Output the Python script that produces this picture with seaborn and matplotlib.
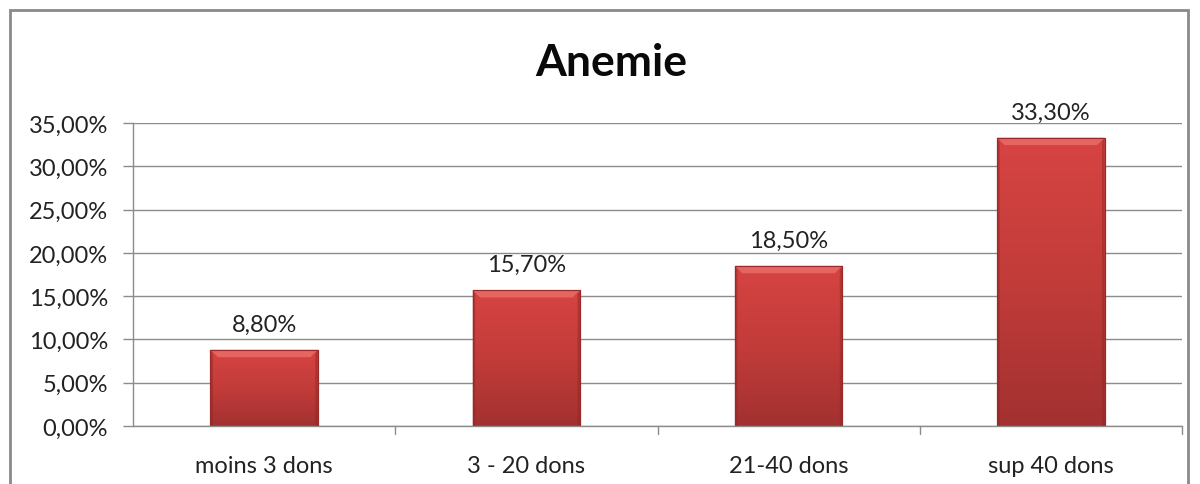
import numpy as np
import pandas as pd
import matplotlib
matplotlib.use("Agg")
import matplotlib.pyplot as plt
import seaborn as sns
from matplotlib.patches import Rectangle, Polygon
from matplotlib.colors import LinearSegmentedColormap

categories = ["moins 3 dons", "3 - 20 dons", "21-40 dons", "sup 40 dons"]
values = [8.80, 15.70, 18.50, 33.30]
value_labels = ["8,80%", "15,70%", "18,50%", "33,30%"]
yticks = [0, 5, 10, 15, 20, 25, 30, 35]
ytick_labels = ["0,00%", "5,00%", "10,00%", "15,00%", "20,00%", "25,00%", "30,00%", "35,00%"]
title = "Anemie"

sns.set_theme(style="white")
plt.rcParams['font.family'] = ['Lato', 'DejaVu Sans']

df = pd.DataFrame({"cat": categories, "val": values})

fig = plt.figure(figsize=(12, 4.85), dpi=100)
ax = fig.add_axes([133/1200, 1-427/485, (1182-133)/1200, (427-124)/485])

sns.barplot(data=df, x="cat", y="val", ax=ax, color="#c73c3a", width=0.41,
            saturation=1, edgecolor="#9a2a28", linewidth=0.8)

ax.set_ylim(0, 35)
ax.set_xlim(-0.5, 3.5)
ax.set_yticks(yticks)
ax.set_yticklabels(ytick_labels)
ax.set_xlabel("")
ax.set_ylabel("")
ax.yaxis.grid(True, color="#8c8c8c", linewidth=1)
ax.set_axisbelow(True)
for s in ["top", "right"]:
    ax.spines[s].set_visible(False)
ax.spines["left"].set_color("#8c8c8c")
ax.spines["bottom"].set_color("#8c8c8c")
ax.spines["left"].set_linewidth(1)
ax.spines["bottom"].set_linewidth(1)
ax.tick_params(axis="y", which="major", left=True, length=7, width=1, color="#8c8c8c",
               labelsize=17, labelcolor="#222222", pad=11)
ax.set_xticks([0, 1, 2, 3])
ax.set_xticklabels(categories)
ax.tick_params(axis="x", which="major", bottom=False, labelsize=17, labelcolor="#222222", pad=15)
# category boundary tick marks
for b in [0.5, 1.5, 2.5, 3.5]:
    ax.plot([b, b], [0, -0.9], color="#8c8c8c", lw=1, clip_on=False, zorder=1)

# gradient fill on bars
cmap = LinearSegmentedColormap.from_list("barg", ["#a23130", "#c23c3a", "#d64442"])
bev = 0.85  # bevel height in data units
for p, lab in zip(ax.patches, value_labels):
    x0, y0 = p.get_x(), p.get_y()
    w, h = p.get_width(), p.get_height()
    z = p.get_zorder()
    grad = np.linspace(0, 1, 256).reshape(-1, 1)
    im = ax.imshow(grad, extent=[x0, x0 + w, y0, y0 + h], origin="lower",
                   cmap=cmap, aspect="auto", zorder=z + 0.1)
    im.set_clip_path(p)
    dx = w * 0.07
    # top bevel (lighter trapezoid)
    ax.add_patch(Polygon([(x0, y0 + h), (x0 + w, y0 + h), (x0 + w - dx, y0 + h - bev),
                          (x0 + dx, y0 + h - bev)], closed=True, facecolor="#e46561",
                         edgecolor="none", zorder=z + 0.2))
    # side bevels (darker)
    ax.add_patch(Polygon([(x0, y0), (x0, y0 + h), (x0 + dx * 0.35, y0 + h - bev * 0.5),
                          (x0 + dx * 0.35, y0)], closed=True, facecolor="#8e2624",
                         alpha=0.45, edgecolor="none", zorder=z + 0.2))
    ax.add_patch(Polygon([(x0 + w, y0), (x0 + w, y0 + h), (x0 + w - dx * 0.35, y0 + h - bev * 0.5),
                          (x0 + w - dx * 0.35, y0)], closed=True, facecolor="#8e2624",
                         alpha=0.45, edgecolor="none", zorder=z + 0.2))
    ax.add_patch(Rectangle((x0, y0), w, h, facecolor="none", edgecolor="#9a2a28",
                           linewidth=0.8, zorder=z + 0.3))
    ax.annotate(lab, (x0 + w / 2, y0 + h), xytext=(0, 11), textcoords="offset points",
                ha="center", va="bottom", fontsize=17, color="#222222")

ax.set_xlim(-0.5, 3.5)
ax.set_ylim(0, 35)

fig.text(611/1200, 1-63/485, title, ha="center", va="center", fontsize=32,
         fontweight="bold", color="#0a0a0a")

# chart border
fig.patches.append(Rectangle((10/1200, -0.1), (1188-10)/1200, (1+0.1) - 11/485,
                             transform=fig.transFigure, fill=False,
                             edgecolor="#8a8a8a", linewidth=2, zorder=10))

fig.savefig("out.png", dpi=100)
